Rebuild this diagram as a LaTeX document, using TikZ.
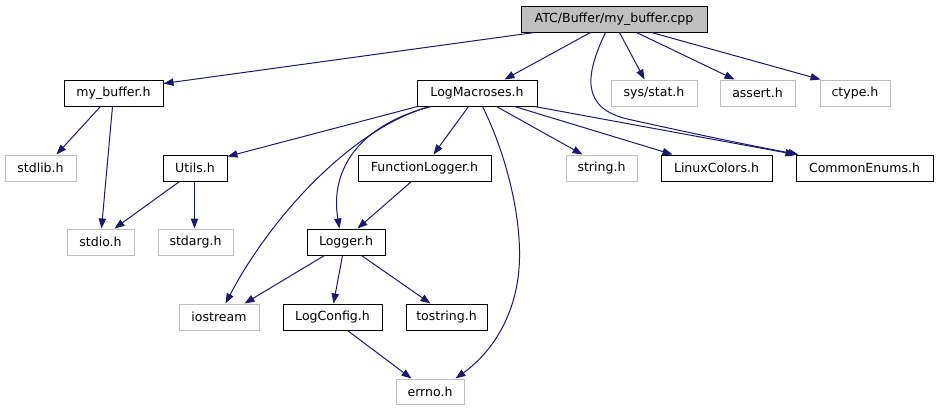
\documentclass[tikz,border=0pt]{standalone}
\usepackage{fontspec}
\setmainfont{DejaVu Sans}
\usetikzlibrary{arrows.meta,calc}
\definecolor{edgeblue}{HTML}{191970}
\definecolor{boxgray}{HTML}{BFBFBF}
\tikzset{
  box/.style={rectangle, inner sep=0pt, line width=0.75pt, minimum height=19.5pt,
    font=\fontsize{9.4}{11}\selectfont, text=black},
  blk/.style={box, draw=black},
  gry/.style={box, draw=boxgray},
  rootbox/.style={box, draw=black, fill=boxgray},
  bw/.style={minimum width=#1*0.75pt},
  edge/.style={draw=edgeblue, line width=0.75pt, -{Triangle[length=7.5pt,width=5.5pt]}}
}
\begin{document}
\begin{tikzpicture}[x=0.75pt,y=-0.75pt]
\useasboundingbox (0,0) rectangle (939,411);
% row 0
\node[rootbox,bw=186] (root) at (614,19) {ATC/Buffer/my\_buffer.cpp};
% row 1
\node[blk,bw=99] (mybuf) at (113.5,93) {my\_buffer.h};
\node[blk,bw=120] (logm) at (477,93) {LogMacroses.h};
\node[gry,bw=86] (sysstat) at (654,93) {sys/stat.h};
\node[gry,bw=75] (assert) at (757.5,93) {assert.h};
\node[gry,bw=70] (ctype) at (855,93) {ctype.h};
% row 2
\node[gry,bw=71] (stdlib) at (40.5,168) {stdlib.h};
\node[blk,bw=64] (utils) at (195,168) {Utils.h};
\node[blk,bw=133] (funclog) at (424.5,168) {FunctionLogger.h};
\node[gry,bw=71] (string) at (601.5,168) {string.h};
\node[blk,bw=111] (linux) at (716.5,168) {LinuxColors.h};
\node[blk,bw=137] (common) at (864.5,168) {CommonEnums.h};
% row 3
\node[gry,bw=67] (stdio) at (100.5,242) {stdio.h};
\node[gry,bw=75] (stdarg) at (195.5,242) {stdarg.h};
\node[blk,bw=78] (logger) at (346,242) {Logger.h};
% row 4
\node[gry,bw=80] (iostream) at (219,317) {iostream};
\node[blk,bw=99] (logconfig) at (332.5,317) {LogConfig.h};
\node[blk,bw=81] (tostring) at (446.5,317) {tostring.h};
% row 5
\node[gry,bw=68,minimum height=18.75pt] (errno) at (430,391.5) {errno.h};

% edges from root
\draw[edge] ($(root.south west)+(14,0)$) -- ($(mybuf.north east)+(0,4)$);
\draw[edge] ($(root.south west)+(70,0)$) -- ($(logm.north west)+(88,0)$);
\draw[edge] ($(root.south west)+(99,0)$) -- ($(sysstat.north west)+(34,0)$);
\draw[edge] ($(root.south west)+(116,0)$) -- ($(assert.north west)+(15,0)$);
\draw[edge] ($(root.south west)+(131,0)$) -- ($(ctype.north west)+(1,0)$);
\draw[edge] ($(root.south west)+(85,0)$) .. controls ($(root.south west)+(66,40)$) and ($(root.south west)+(58,76)$) .. ($(root.south west)+(109,87)$)
  .. controls ($(root.south west)+(159,98)$) and ($(root.south west)+(219,111)$) .. ($(common.north west)+(3,0)$);
% my_buffer.h
\draw[edge] ($(mybuf.south west)+(37,0)$) -- ($(stdlib.north west)+(52,0)$);
\draw[edge] ($(mybuf.south west)+(49,0)$) -- ($(stdio.north west)+(35,0)$);
% LogMacroses.h
\draw[edge] ($(logm.south west)+(1,0)$) -- ($(utils.north east)+(0,2)$);
\draw[edge] ($(logm.south west)+(13,0)$) .. controls ($(logm.south west)+(-67,23)$) and ($(logm.south west)+(-147,113)$) .. ($(iostream.north west)+(47,0)$);
\draw[edge] ($(logm.south west)+(15,0)$) .. controls ($(logm.south west)+(-57,18)$) and ($(logm.south west)+(-87,63)$) .. ($(logger.north west)+(33,0)$);
\draw[edge] ($(logm.south west)+(52,0)$) -- ($(funclog.north west)+(76,0)$);
\draw[edge] ($(logm.south west)+(66,0)$) .. controls ($(logm.south west)+(88,44)$) and ($(logm.south west)+(104,104)$) .. ($(logm.south west)+(103,152)$)
  .. controls ($(logm.south west)+(102,204)$) and ($(logm.south west)+(78,244)$) .. ($(errno.north east)+(-9,0)$);
\draw[edge] ($(logm.south west)+(80,0)$) -- ($(string.north west)+(17,0)$);
\draw[edge] ($(logm.south west)+(98,0)$) -- ($(linux.north west)+(12,0)$);
\draw[edge] ($(logm.south west)+(118,0)$) -- ($(common.north west)+(0,0)$);
% Utils.h
\draw[edge] ($(utils.south west)+(17,0)$) -- ($(stdio.north west)+(48,0)$);
\draw[edge] ($(utils.south west)+(32,0)$) -- ($(stdarg.north west)+(37,0)$);
% FunctionLogger.h
\draw[edge] ($(funclog.south west)+(54,0)$) -- ($(logger.north west)+(51,0)$);
% Logger.h
\draw[edge] ($(logger.south west)+(18,0)$) -- ($(iostream.north west)+(66,0)$);
\draw[edge] ($(logger.south west)+(36,0)$) -- ($(logconfig.north west)+(51,0)$);
\draw[edge] ($(logger.south west)+(55,0)$) -- ($(tostring.north west)+(25,0)$);
% LogConfig.h
\draw[edge] ($(logconfig.south west)+(65,0)$) -- ($(errno.north west)+(16,0)$);
\end{tikzpicture}
\end{document}
